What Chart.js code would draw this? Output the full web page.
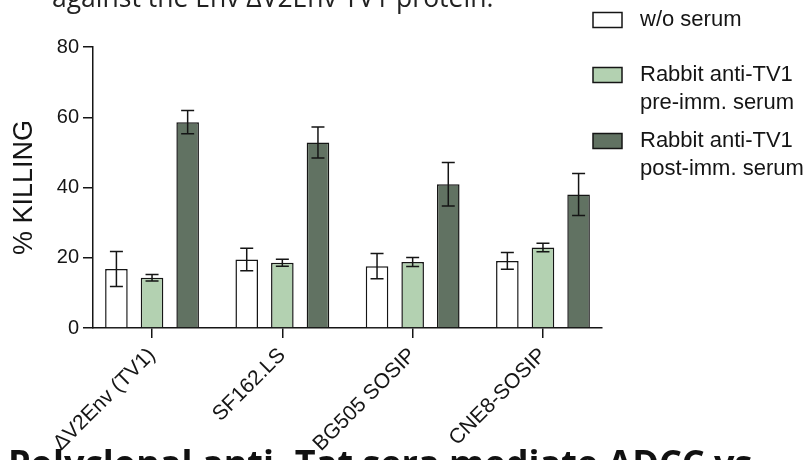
<!DOCTYPE html>
<html lang="en">
<head>
    <meta charset="UTF-8">
    <title>% KILLING</title>
    <style>
        body {
            margin: 0;
            padding: 0;
            background-color: #fff;
            overflow: hidden;
        }

        #page {
            position: relative;
            width: 806px;
            height: 460px;
            overflow: hidden;
        }

        #chart {
            position: absolute;
            left: 0;
            top: 0;
        }

        .para {
            position: absolute;
            white-space: nowrap;
            font-family: "Open Sans", sans-serif;
        }

        #topText {
            left: 52px;
            top: -16px;
            font-size: 26.5px;
            line-height: 26px;
            color: #222;
        }

        #bottomText {
            left: 8px;
            top: 445px;
            font-size: 36px;
            line-height: 36px;
            font-weight: bold;
            color: #111;
        }
    </style>
    <script src="https://cdn.jsdelivr.net/npm/chart.js"></script>
</head>
<body>
    <div id="page">
        <canvas id="chart" width="806" height="460"></canvas>
        <div class="para" id="topText">against the Env ΔV2Env TV1 protein.</div>
        <div class="para" id="bottomText">Polyclonal anti- Tat sera mediate ADCC vs</div>
    </div>

    <script>
        // categorias do eixo X
        const categories = ['ΔV2Env (TV1)', 'SF162.LS', 'BG505 SOSIP', 'CNE8-SOSIP'];

        // séries (média e erro)
        const seriesLabels = [
            ['w/o serum'],
            ['Rabbit anti-TV1', 'pre-imm. serum'],
            ['Rabbit anti-TV1', 'post-imm. serum']
        ];
        const noSerum = [16.8, 19.5, 17.6, 19.1];
        const noSerumErr = [5.0, 3.2, 3.6, 2.4];
        const preImm = [14.3, 18.6, 18.8, 22.9];
        const preImmErr = [0.9, 1.0, 1.3, 1.2];
        const postImm = [58.6, 52.8, 40.9, 38.0];
        const postImmErr = [3.3, 4.4, 6.2, 6.0];

        const yTicks = [0, 20, 40, 60, 80];

        const fillColors = ['#ffffff', '#b3d1b1', '#617262'];
        const ink = '#151515';
        const fontFamily = '"Liberation Sans", Arial, sans-serif';

        const values = [noSerum, preImm, postImm];
        const errors = [noSerumErr, preImmErr, postImmErr];

        function toPoints(arr) {
            return arr.map((v, i) => ({ x: i, y: v }));
        }

        // barras de erro
        const errorBars = {
            id: 'errorBars',
            afterDatasetsDraw(chart) {
                const ctx = chart.ctx;
                const y = chart.scales.y;
                ctx.save();
                ctx.strokeStyle = ink;
                ctx.lineWidth = 1.5;
                chart.data.datasets.forEach((ds, d) => {
                    const meta = chart.getDatasetMeta(d);
                    meta.data.forEach((bar, i) => {
                        const v = values[d][i];
                        const e = errors[d][i];
                        const top = y.getPixelForValue(v + e);
                        const bot = y.getPixelForValue(v - e);
                        const half = 6.5;
                        ctx.beginPath();
                        ctx.moveTo(bar.x, top);
                        ctx.lineTo(bar.x, bot);
                        ctx.moveTo(bar.x - half, top);
                        ctx.lineTo(bar.x + half, top);
                        ctx.moveTo(bar.x - half, bot);
                        ctx.lineTo(bar.x + half, bot);
                        ctx.stroke();
                    });
                });
                ctx.restore();
            }
        };

        // legenda à direita
        const sideLegend = {
            id: 'sideLegend',
            afterDraw(chart) {
                const ctx = chart.ctx;
                const rows = [20, 75, 141];
                const lineH = 27.5;
                ctx.save();
                ctx.font = '22px ' + fontFamily;
                ctx.textBaseline = 'middle';
                seriesLabels.forEach((lines, i) => {
                    const cy = rows[i];
                    ctx.fillStyle = fillColors[i];
                    ctx.fillRect(593, cy - 7.5, 29, 15);
                    ctx.strokeStyle = ink;
                    ctx.lineWidth = 1.5;
                    ctx.strokeRect(593, cy - 7.5, 29, 15);
                    ctx.fillStyle = ink;
                    lines.forEach((t, k) => ctx.fillText(t, 640, cy + k * lineH));
                });
                ctx.restore();
            }
        };

        new Chart(document.getElementById('chart'), {
            type: 'bar',
            data: {
                datasets: seriesLabels.map((lbl, i) => ({
                    label: lbl.join(' '),
                    data: toPoints(values[i]),
                    backgroundColor: fillColors[i],
                    borderColor: ink,
                    borderWidth: 1.5,
                    categoryPercentage: 0.82,
                    barPercentage: 0.634
                }))
            },
            options: {
                responsive: false,
                animation: false,
                layout: { padding: { left: 0, top: 47, right: 204, bottom: 0 } },
                plugins: {
                    legend: { display: false },
                    tooltip: { enabled: false }
                },
                scales: {
                    x: {
                        type: 'linear',
                        offset: false,
                        min: -0.453,
                        max: 3.453,
                        afterBuildTicks: s => { s.ticks = categories.map((c, i) => ({ value: i })); },
                        afterFit: s => { s.height = 132; },
                        grid: { offset: false, drawOnChartArea: false, tickLength: 10, color: ink, lineWidth: 1.5 },
                        border: { color: ink, width: 1.5 },
                        ticks: {
                            autoSkip: false,
                            minRotation: 45,
                            maxRotation: 45,
                            padding: 5,
                            color: ink,
                            font: { family: fontFamily, size: 21 },
                            callback: (v) => categories[v]
                        }
                    },
                    y: {
                        min: 0,
                        max: 80,
                        afterBuildTicks: s => { s.ticks = yTicks.map(v => ({ value: v })); },
                        afterFit: s => { s.width = 93; },
                        grid: { drawOnChartArea: false, tickLength: 10, color: ink, lineWidth: 1.5 },
                        border: { color: ink, width: 1.5 },
                        ticks: {
                            padding: 4,
                            color: ink,
                            font: { family: fontFamily, size: 20 }
                        },
                        title: {
                            display: true,
                            text: '% KILLING',
                            color: ink,
                            font: { family: fontFamily, size: 27 },
                            padding: { top: 8, bottom: 0 }
                        }
                    }
                }
            },
            plugins: [errorBars, sideLegend]
        });
    </script>
</body>
</html>
